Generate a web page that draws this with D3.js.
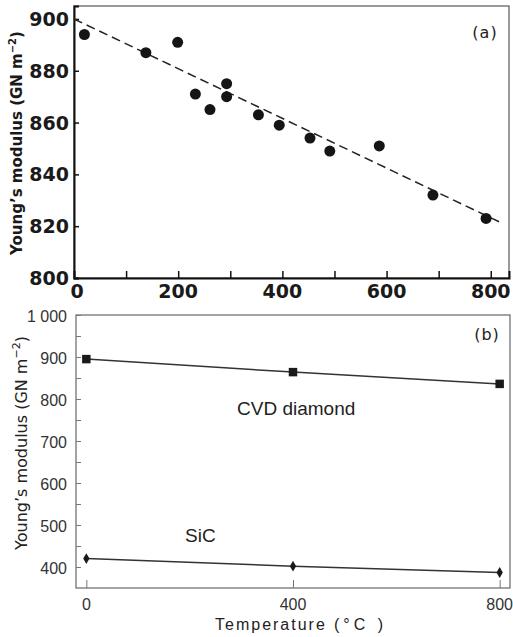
<!DOCTYPE html>
<html>
<head>
  <meta charset="utf-8">
  <script src="https://d3js.org/d3.v7.min.js"></script>
  <style>
    body { margin: 0; background: #fff; }
  </style>
</head>
<body>
  <div id="chart"></div>
<script>

  // panel (a): measured points and linear fit
  var tempA = [20, 138, 199, 233, 261, 293, 293, 354, 394, 453, 491, 586, 689, 791];
  var modA  = [894, 887, 891, 871, 865, 875, 870, 863, 859, 854, 849, 851, 832, 823];
  var fitT  = [0, 818];
  var fitE  = [900, 821.5];
  var ticksAx = [0, 200, 400, 600, 800];
  var ticksAy = [800, 820, 840, 860, 880, 900];

  // panel (b): CVD diamond vs SiC
  var tempB    = [0, 400, 800];
  var diamondB = [895, 864, 836];
  var sicB     = [420, 402, 387];
  var ticksBx  = [0, 400, 800];
  var ticksBy  = [400, 500, 600, 700, 800, 900, 1000];

  var svg = d3.select("#chart").append("svg")
      .attr("width", 513)
      .attr("height", 637);

  // ---------- panel (a) ----------
  var xA = d3.scaleLinear().domain([0, 835]).range([74, 509]);
  var yA = d3.scaleLinear().domain([800, 905]).range([278, 6]);

  var gA = svg.append("g");

  // frame: top/right thin
  gA.append("rect")
    .attr("x", 74).attr("y", 6)
    .attr("width", 435).attr("height", 272)
    .attr("fill", "none").attr("stroke", "#555").attr("stroke-width", 1.2);

  // bottom axis with inward ticks every 100
  gA.append("g")
    .attr("transform", "translate(0,278)")
    .call(d3.axisTop(xA).tickValues(d3.range(100, 900, 100)).tickSize(7).tickFormat(""))
    .call(function(g) {
      g.select(".domain").attr("stroke", "#111").attr("stroke-width", 2);
      g.selectAll(".tick line").attr("stroke", "#111").attr("stroke-width", 1.5);
    });

  // left axis with inward ticks
  gA.append("g")
    .attr("transform", "translate(74,0)")
    .call(d3.axisRight(yA).tickValues(ticksAy).tickSize(5).tickFormat(""))
    .call(function(g) {
      g.select(".domain").attr("stroke", "#111").attr("stroke-width", 2);
      g.selectAll(".tick line").attr("stroke", "#111").attr("stroke-width", 1.5);
    });

  // tick labels
  gA.selectAll(".xlabA")
    .data(ticksAx)
    .enter().append("text")
      .attr("x", function(d) { return xA(d) + (d === 0 ? 3 : 0); })
      .attr("y", 298)
      .attr("text-anchor", "middle")
      .style("font-family", "DejaVu Sans")
      .style("font-weight", "bold")
      .style("font-size", "19px")
      .attr("fill", "#1a1a1a")
      .text(function(d) { return d; });

  gA.selectAll(".ylabA")
    .data(ticksAy)
    .enter().append("text")
      .attr("x", 69)
      .attr("y", function(d) { return yA(d) + 7; })
      .attr("text-anchor", "end")
      .style("font-family", "DejaVu Sans")
      .style("font-weight", "bold")
      .style("font-size", "19px")
      .attr("fill", "#1a1a1a")
      .text(function(d) { return d; });

  // y title
  var tA = gA.append("text")
    .attr("transform", "translate(22,143) rotate(-90)")
    .attr("text-anchor", "middle")
    .style("font-family", "DejaVu Sans")
    .style("font-weight", "bold")
    .style("font-size", "15px")
    .attr("fill", "#1a1a1a");
  tA.append("tspan").text("Young’s modulus (GN m");
  tA.append("tspan").attr("dy", -6).style("font-size", "10px").text("−2");
  tA.append("tspan").attr("dy", 6).text(")");

  // dashed fit line
  var fitData = fitT.map(function(t, i) { return [t, fitE[i]]; });
  gA.append("path")
    .datum(fitData)
    .attr("fill", "none")
    .attr("stroke", "#222")
    .attr("stroke-width", 1.5)
    .attr("stroke-dasharray", "9,5")
    .attr("d", d3.line()
      .x(function(d) { return xA(d[0]); })
      .y(function(d) { return yA(d[1]); }));

  // points
  gA.selectAll("circle")
    .data(tempA.map(function(t, i) { return [t, modA[i]]; }))
    .enter().append("circle")
      .attr("cx", function(d) { return xA(d[0]); })
      .attr("cy", function(d) { return yA(d[1]); })
      .attr("r", 5.5)
      .attr("fill", "#151515");

  gA.append("text")
    .attr("x", 485).attr("y", 38)
    .attr("text-anchor", "middle")
    .style("font-family", "DejaVu Sans")
    .style("font-size", "16px")
    .style("letter-spacing", "1px")
    .attr("fill", "#222")
    .text("(a)");

  // ---------- panel (b) ----------
  var xB = d3.scaleLinear().domain([-20, 820]).range([76, 510]);
  var yB = d3.scaleLinear().domain([350, 1000]).range([588, 315]);

  var gB = svg.append("g");

  gB.append("rect")
    .attr("x", 76).attr("y", 315)
    .attr("width", 434).attr("height", 273)
    .attr("fill", "none").attr("stroke", "#666").attr("stroke-width", 1.2);

  // inward y ticks every 50
  gB.append("g")
    .attr("transform", "translate(76,0)")
    .call(d3.axisRight(yB).tickValues(d3.range(400, 1001, 50)).tickSize(5).tickFormat(""))
    .call(function(g) {
      g.select(".domain").remove();
      g.selectAll(".tick line").attr("stroke", "#777");
    });

  // inward x ticks
  gB.append("g")
    .attr("transform", "translate(0,588)")
    .call(d3.axisTop(xB).tickValues(ticksBx).tickSize(8).tickFormat(""))
    .call(function(g) {
      g.select(".domain").remove();
      g.selectAll(".tick line").attr("stroke", "#777");
    });

  gB.selectAll(".xlabB")
    .data(ticksBx)
    .enter().append("text")
      .attr("x", function(d) { return xB(d); })
      .attr("y", 610)
      .attr("text-anchor", "middle")
      .style("font-family", "Liberation Sans")
      .style("font-size", "16px")
      .attr("fill", "#333")
      .text(function(d) { return d; });

  gB.selectAll(".ylabB")
    .data(ticksBy)
    .enter().append("text")
      .attr("x", 67)
      .attr("y", function(d) { return yB(d) + 7; })
      .attr("text-anchor", "end")
      .style("font-family", "Liberation Sans")
      .style("font-size", "16px")
      .attr("fill", "#333")
      .text(function(d) { return d === 1000 ? "1 000" : d; });

  var tB = gB.append("text")
    .attr("transform", "translate(27,443) rotate(-90)")
    .attr("text-anchor", "middle")
    .style("font-family", "DejaVu Sans")
    .style("font-size", "16px")
    .attr("fill", "#222");
  tB.append("tspan").text("Young’s modulus (GN m");
  tB.append("tspan").attr("dy", -7).style("font-size", "11px").text("−2");
  tB.append("tspan").attr("dy", 7).text(")");

  var lineB = d3.line()
    .x(function(d) { return xB(d[0]); })
    .y(function(d) { return yB(d[1]); });

  var dData = tempB.map(function(t, i) { return [t, diamondB[i]]; });
  var sData = tempB.map(function(t, i) { return [t, sicB[i]]; });

  gB.append("path").datum(dData)
    .attr("fill", "none").attr("stroke", "#333").attr("stroke-width", 1.5)
    .attr("d", lineB);
  gB.append("path").datum(sData)
    .attr("fill", "none").attr("stroke", "#333").attr("stroke-width", 1.5)
    .attr("d", lineB);

  gB.selectAll(".sq")
    .data(dData)
    .enter().append("path")
      .attr("transform", function(d) { return "translate(" + xB(d[0]) + "," + yB(d[1]) + ")"; })
      .attr("d", d3.symbol().type(d3.symbolSquare).size(72))
      .attr("fill", "#1a1a1a");

  gB.selectAll(".dm")
    .data(sData)
    .enter().append("path")
      .attr("transform", function(d) { return "translate(" + xB(d[0]) + "," + yB(d[1]) + ")"; })
      .attr("d", d3.symbol().type(d3.symbolDiamond).size(34))
      .attr("fill", "#1a1a1a");

  gB.append("text")
    .attr("x", 237).attr("y", 415)
    .style("font-family", "Liberation Sans")
    .style("font-size", "19px")
    .attr("fill", "#222")
    .text("CVD diamond");

  gB.append("text")
    .attr("x", 185).attr("y", 542)
    .style("font-family", "Liberation Sans")
    .style("font-size", "19px")
    .attr("fill", "#222")
    .text("SiC");

  gB.append("text")
    .attr("x", 487).attr("y", 340)
    .attr("text-anchor", "middle")
    .style("font-family", "DejaVu Sans")
    .style("font-size", "16px")
    .style("letter-spacing", "1px")
    .attr("fill", "#222")
    .text("(b)");

  // x title
  gB.append("text")
    .attr("x", 215).attr("y", 630)
    .style("font-family", "Liberation Sans")
    .style("font-size", "16px")
    .style("letter-spacing", "2px")
    .attr("fill", "#222")
    .text("Temperature");
  gB.append("text")
    .attr("x", 334).attr("y", 630)
    .style("font-family", "Liberation Sans")
    .style("font-size", "16px")
    .style("letter-spacing", "4px")
    .attr("fill", "#222")
    .text("(°C )");

</script>
</body>
</html>
